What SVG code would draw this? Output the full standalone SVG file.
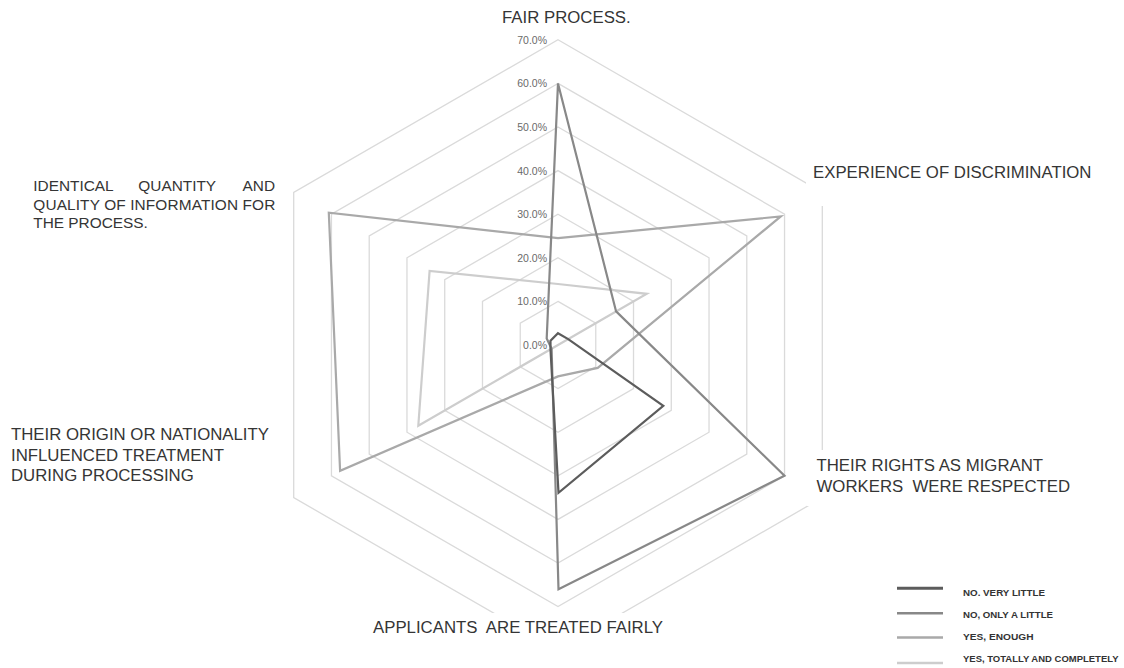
<svg xmlns="http://www.w3.org/2000/svg" width="1124" height="668" viewBox="0 0 1124 668">
<style>
.ring{fill:none;stroke:#dadada;stroke-width:1.3}
.s{fill:none;stroke-width:2.2;stroke-linejoin:miter}
.s1{stroke:#5c5c5c}
.s2{stroke:#888888}
.s3{stroke:#a9a9a9}
.s4{stroke:#cdcdcd}
.lbl{font-family:"Liberation Sans",Arial,sans-serif;font-size:16.8px;fill:#353535}
.sm{font-family:"Liberation Sans",Arial,sans-serif;font-size:15.4px;fill:#353535}
.tick{font-family:"Liberation Sans",Arial,sans-serif;font-size:10.5px;fill:#6a6a6a;text-anchor:end}
.leg{font-family:"Liberation Sans",Arial,sans-serif;font-size:8.6px;font-weight:bold;fill:#333}
.bg{fill:#ffffff}
</style>
<rect width="1124" height="668" fill="#ffffff"/>
<g id="grid">
<polygon class="ring" points="558,301.4 595.76,323.2 595.76,366.8 558,388.6 520.24,366.8 520.24,323.2"/>
<polygon class="ring" points="558,257.8 633.52,301.4 633.52,388.6 558,432.2 482.48,388.6 482.48,301.4"/>
<polygon class="ring" points="558,214.2 671.27,279.6 671.27,410.4 558,475.8 444.73,410.4 444.73,279.6"/>
<polygon class="ring" points="558,170.6 709.03,257.8 709.03,432.2 558,519.4 406.97,432.2 406.97,257.8"/>
<polygon class="ring" points="558,127 746.79,236 746.79,454 558,563 369.21,454 369.21,236"/>
<polygon class="ring" points="558,83.4 784.55,214.2 784.55,475.8 558,606.6 331.45,475.8 331.45,214.2"/>
<polygon class="ring" points="558,39.8 822.3,192.4 822.3,497.6 558,650.2 293.7,497.6 293.7,192.4"/>
</g>
<g id="ticks">
<text class="tick" x="547" y="349">0.0%</text>
<text class="tick" x="547" y="305.4">10.0%</text>
<text class="tick" x="547" y="261.8">20.0%</text>
<text class="tick" x="547" y="218.2">30.0%</text>
<text class="tick" x="547" y="174.6">40.0%</text>
<text class="tick" x="547" y="131">50.0%</text>
<text class="tick" x="547" y="87.4">60.0%</text>
<text class="tick" x="547" y="43.8">70.0%</text>
</g>
<g id="connectors">
<polygon id="series-totally" class="s s4" points="558,284 646.8,293.8 558,345 558,345 418.3,425.7 429.6,270.9"/>
<polygon id="series-enough" class="s s3" points="558,238.2 780.8,216.4 597.7,367.9 558,376.4 340.1,470.8 328.8,212.7"/>
<polygon id="series-only-a-little" class="s s2" points="558,83.4 616.1,311.4 784.5,475.8 558.5,589.2 551.6,348.7 546.7,338.5"/>
<polygon id="series-very-little" class="s s1" points="558,333.2 568.2,339.1 663.3,405.8 558.5,492.8 550.5,349.4 550.5,340.6"/>
</g>
<g id="node-fair-process">
<text class="lbl" x="502" y="22.5">FAIR PROCESS.</text>
</g>
<g id="node-experience">
<rect class="bg" x="806" y="150" width="300" height="56"/>
<text class="lbl" x="813" y="177.5">EXPERIENCE OF DISCRIMINATION</text>
</g>
<g id="node-rights">
<rect class="bg" x="807" y="450" width="290" height="56"/>
<text class="lbl" x="816.5" y="471">THEIR RIGHTS AS MIGRANT</text>
<text class="lbl" x="816.5" y="492" xml:space="preserve">WORKERS  WERE RESPECTED</text>
</g>
<g id="node-applicants">
<rect class="bg" x="370" y="613" width="305" height="42"/>
<text class="lbl" x="373" y="633" xml:space="preserve">APPLICANTS  ARE TREATED FAIRLY</text>
</g>
<g id="node-origin">
<text class="lbl" x="11" y="440">THEIR ORIGIN OR NATIONALITY</text>
<text class="lbl" x="11" y="460.5">INFLUENCED TREATMENT</text>
<text class="lbl" x="11" y="481">DURING PROCESSING</text>
</g>
<g id="node-identical">
<text class="sm" x="33.3" y="191">IDENTICAL</text>
<text class="sm" x="138.3" y="191">QUANTITY</text>
<text class="sm" x="275" y="191" text-anchor="end">AND</text>
<text class="sm" x="33.3" y="209.5" textLength="242" lengthAdjust="spacing">QUALITY OF INFORMATION FOR</text>
<text class="sm" x="33.3" y="228">THE PROCESS.</text>
</g>
<g id="legend">
<line x1="897" y1="588.3" x2="943" y2="588.3" stroke="#5c5c5c" stroke-width="3"/>
<line x1="897" y1="613.3" x2="943" y2="613.3" stroke="#888888" stroke-width="2.5"/>
<line x1="897" y1="637.5" x2="943" y2="637.5" stroke="#a9a9a9" stroke-width="2.5"/>
<line x1="897" y1="663" x2="943" y2="663" stroke="#cdcdcd" stroke-width="2.5"/>
<text class="leg" x="963" y="596" textLength="82" lengthAdjust="spacingAndGlyphs">NO. VERY LITTLE</text>
<text class="leg" x="963" y="617.5" textLength="90" lengthAdjust="spacingAndGlyphs">NO, ONLY A LITTLE</text>
<text class="leg" x="963" y="639.5" textLength="70.5" lengthAdjust="spacingAndGlyphs">YES, ENOUGH</text>
<text class="leg" x="963" y="661.5" textLength="155.5" lengthAdjust="spacingAndGlyphs">YES, TOTALLY AND COMPLETELY</text>
</g>
</svg>
